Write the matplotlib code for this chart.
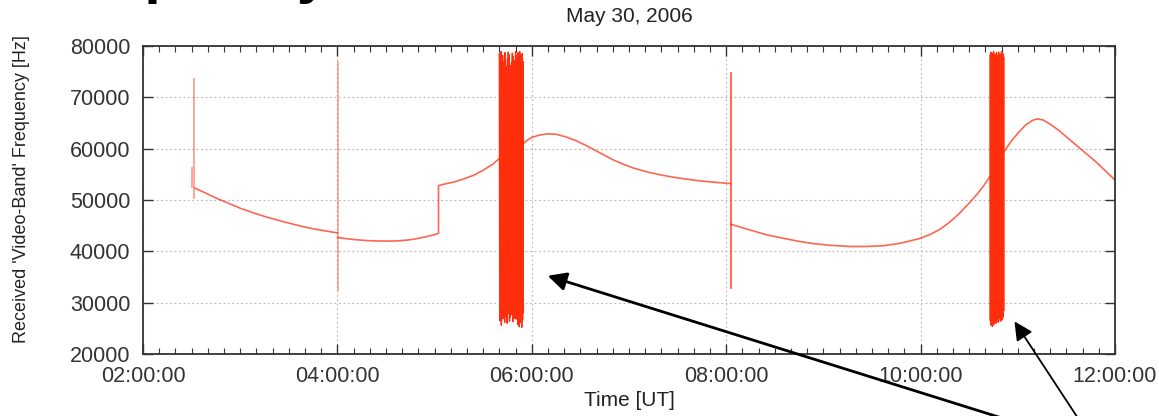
import numpy as np
import matplotlib
matplotlib.use("Agg")
import matplotlib.pyplot as plt
from matplotlib.ticker import MultipleLocator, FuncFormatter

plt.rcParams["font.family"] = ["Liberation Sans", "DejaVu Sans"]

# ---- data (time in hours UT, frequency in Hz) ----
seg_a_t = [2.535, 2.65, 2.75, 2.9, 3.0, 3.15, 3.25, 3.4, 3.5, 3.65, 3.75, 3.9, 4.0]
seg_a_f = [52300, 51300, 50400, 49200, 48400, 47400, 46800, 46000, 45500, 44800, 44400, 43900, 43600]

seg_b_t = [4.0, 4.1, 4.2, 4.3, 4.4, 4.5, 4.6, 4.7, 4.8, 4.9, 5.0, 5.04,
           5.04, 5.1, 5.2, 5.3, 5.4, 5.5, 5.6, 5.666]
seg_b_f = [42700, 42450, 42250, 42100, 42020, 42000, 42030, 42150, 42400, 42800, 43250, 43500,
           52800, 53100, 53500, 54100, 54800, 55800, 57000, 58100]

seg_c_t = [5.913, 5.95, 6.0, 6.08, 6.17, 6.25, 6.35, 6.45, 6.55, 6.65, 6.75, 6.85, 6.95,
           7.05, 7.2, 7.35, 7.5, 7.7, 7.85, 8.045]
seg_c_f = [61000, 61600, 62200, 62650, 62900, 62800, 62300, 61600, 60700, 59700, 58700, 57700, 56900,
           56200, 55400, 54800, 54300, 53800, 53500, 53200]

seg_d_t = [8.045, 8.2, 8.42, 8.6, 8.76, 8.9, 9.05, 9.27, 9.45, 9.62, 9.8, 9.99, 10.1, 10.2,
           10.3, 10.4, 10.5, 10.58, 10.65, 10.714]
seg_d_f = [45300, 44400, 43200, 42500, 41900, 41500, 41200, 40950, 40950, 41100, 41600, 42500, 43300, 44300,
           45700, 47400, 49400, 51100, 52800, 54600]

seg_e_t = [10.858, 10.93, 11.0, 11.08, 11.15, 11.2, 11.26, 11.33, 11.42, 11.5, 11.6, 11.7, 11.8, 11.9, 12.0]
seg_e_f = [59400, 61400, 63000, 64600, 65500, 65800, 65600, 64800, 63600, 62300, 60700, 59100, 57500, 55700, 53900]

# short vertical excursions (time, low, high)
spikes_t = [2.505, 2.52, 4.006, 8.045]
spikes_lo = [52600, 50400, 32500, 32800]
spikes_hi = [56200, 73600, 76900, 74700]
spikes_alpha = [0.45, 0.45, 0.4, 0.75]

# rapidly oscillating intervals (start, end, peak values, trough values)
band1_span = (5.666, 5.913)
band1_hi = [78500, 77800, 78900, 76500, 78200, 75200, 77000, 78700, 76000, 74800,
            77500, 78800, 78300, 76200, 74500, 76800, 78600, 77900, 75500, 77200,
            78900, 78100, 76300, 78700, 77600, 78900, 78200, 76900, 78500, 77000]
band1_lo = [26500, 27800, 25600, 28400, 26900, 27500, 26200, 29000, 27300, 26000,
            27900, 28600, 26400, 27200, 28800, 27700, 26300, 28100, 27000, 29200,
            26800, 27600, 25800, 26700, 25300, 27400, 26100, 25200, 26600, 28000]

band2_span = (10.714, 10.858)
band2_hi = [78200, 78800, 77000, 78600, 76800, 78900, 77500, 78300, 76200, 78700,
            78100, 77300, 78800, 76900, 78400, 77800, 78900, 77100, 78500, 77900]
band2_lo = [26500, 25600, 26200, 25400, 26900, 25800, 26300, 27200, 26000, 26700,
            27400, 26200, 26900, 27600, 26400, 27000, 26600, 27800, 27200, 28500]

x_ticks = [2, 4, 6, 8, 10, 12]
y_ticks = [20000, 30000, 40000, 50000, 60000, 70000, 80000]

LINE = "#ff2a10"
BAND = "#ff2200"

fig = plt.figure(figsize=(11.59, 4.16), dpi=100)
ax = fig.add_axes([143 / 1159, 1 - 354 / 416, (1115 - 143) / 1159, (354 - 46) / 416])

for t, f in [(seg_a_t, seg_a_f), (seg_b_t, seg_b_f), (seg_c_t, seg_c_f),
             (seg_d_t, seg_d_f), (seg_e_t, seg_e_f)]:
    ax.plot(t, f, color=LINE, lw=1.2, alpha=0.72, solid_joinstyle="round")

for t, lo, hi, a in zip(spikes_t, spikes_lo, spikes_hi, spikes_alpha):
    ax.plot([t, t], [lo, hi], color=LINE, lw=1.3, alpha=a)


def zigzag(span, hi, lo):
    vals = []
    for h, l in zip(hi, lo):
        vals += [h, l]
    times = np.linspace(span[0], span[1], len(vals))
    return times, vals


for span, hi, lo in [(band1_span, band1_hi, band1_lo), (band2_span, band2_hi, band2_lo)]:
    bt, bv = zigzag(span, hi, lo)
    ax.plot(bt, bv, color=BAND, lw=1.0, alpha=0.95)

ax.set_xlim(2, 12)
ax.set_ylim(20000, 80000)
ax.set_xticks(x_ticks)
ax.set_yticks(y_ticks)
ax.xaxis.set_minor_locator(MultipleLocator(1 / 6))
ax.xaxis.set_major_formatter(FuncFormatter(lambda h, _: f"{int(round(h)):02d}:00:00"))

ax.grid(True, which="major", color="#b5b5b5", lw=0.8, linestyle=(0, (1.5, 2.5)))
ax.tick_params(which="both", direction="in", top=True, right=True, colors="#333333",
               labelsize=15.5, pad=9)
ax.tick_params(which="major", length=7, width=1)
ax.tick_params(which="minor", length=4, width=0.8, left=False, right=False)
for s in ax.spines.values():
    s.set_linewidth(1.3)
    s.set_color("#333333")

cx = (143 + 1115) / 2 / 1159
fig.text(cx, 1 - 17 / 416, "May 30, 2006", ha="center", va="center", fontsize=15, color="#222222")
fig.text(cx, 1 - 400 / 416, "Time [UT]", ha="center", va="center", fontsize=15, color="#222222")
fig.text(22 / 1159, 1 - 189 / 416, "Received 'Video-Band' Frequency [Hz]", rotation=90,
         ha="center", va="center", fontsize=13, color="#222222")

# slide heading, mostly above the visible area
fig.text(34 / 1159, 1 + 8 / 416, "Frequency", fontsize=42, fontweight="bold",
         ha="left", va="baseline", color="black")

# pointers to the two oscillating intervals
ax.annotate("", xy=(6.136, 35400), xycoords="data",
            xytext=(1022 / 1159, -0.02), textcoords="figure fraction",
            arrowprops=dict(arrowstyle="-|>", color="black", lw=2.0, mutation_scale=28),
            annotation_clip=False)
ax.annotate("", xy=(10.95, 26800), xycoords="data",
            xytext=(1082 / 1159, -0.02), textcoords="figure fraction",
            arrowprops=dict(arrowstyle="-|>", color="black", lw=1.3, mutation_scale=28),
            annotation_clip=False)

fig.savefig("out.png", dpi=100)
